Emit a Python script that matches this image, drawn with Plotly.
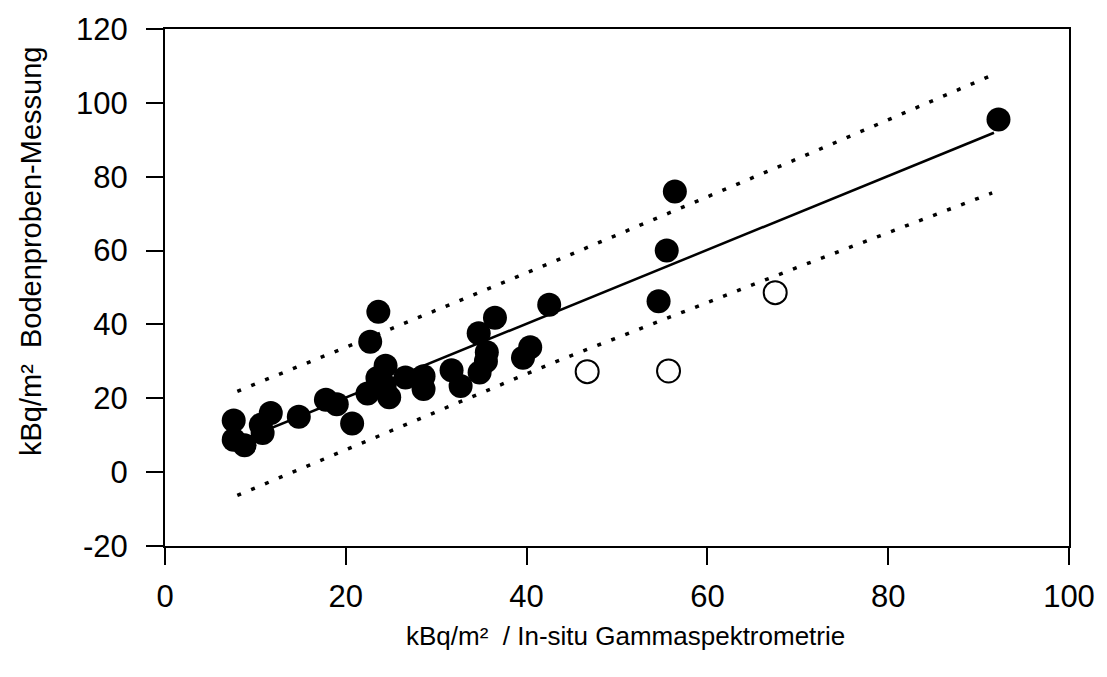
import plotly.graph_objects as go

# filled points (x: in-situ gamma spectrometry, y: soil sample measurement), kBq/m²
filled_x = [7.6, 7.6, 8.8, 10.6, 10.8, 11.7, 14.8, 17.8, 19.0, 20.7, 22.4, 22.7, 23.6,
            23.5, 24.4, 24.8, 24.3, 26.6, 28.6, 28.6, 31.7, 32.7, 34.7, 34.8, 35.5,
            35.6, 36.5, 39.6, 40.4, 42.5, 54.6, 55.5, 56.4, 92.2]
filled_y = [14.0, 8.8, 7.3, 12.8, 10.6, 16.0, 15.0, 19.6, 18.4, 13.2, 21.3, 35.3, 43.4,
            25.5, 28.8, 20.3, 23.5, 25.6, 26.0, 22.5, 27.6, 23.3, 37.6, 27.0, 30.0,
            32.5, 41.8, 31.0, 33.8, 45.3, 46.3, 60.0, 76.0, 95.5]

# open points (excluded from fit)
open_x = [46.7, 55.7, 67.5]
open_y = [27.2, 27.4, 48.6]

# regression line endpoints
fit_x = [7.7, 91.7]
fit_y = [7.9, 91.9]

# prediction band
band_x = [8, 25, 43, 70, 91.5]
band_upper = [21.9, 38.8, 57.0, 84.9, 107.5]
band_lower = [-6.3, 11.3, 29.7, 55.5, 75.6]

x_ticks = [0, 20, 40, 60, 80, 100]
x_labels = ["0", "20", "40", "60", "80", "100"]
y_ticks = [-20, 0, 20, 40, 60, 80, 100, 120]
y_labels = ["-20", "0", "20", "40", "60", "80", "100", "120"]

FONT = "Liberation Sans, Arial, sans-serif"

fig = go.Figure()
for yb in (band_upper, band_lower):
    fig.add_trace(go.Scatter(x=band_x, y=yb, mode="lines",
                             line=dict(color="black", width=3.5, dash="4px,11px"),
                             hoverinfo="skip", showlegend=False))
fig.add_trace(go.Scatter(x=fit_x, y=fit_y, mode="lines",
                         line=dict(color="black", width=2.5),
                         showlegend=False))
fig.add_trace(go.Scatter(x=filled_x, y=filled_y, mode="markers",
                         marker=dict(symbol="circle", size=24, color="black",
                                     line=dict(width=0)),
                         showlegend=False))
fig.add_trace(go.Scatter(x=open_x, y=open_y, mode="markers",
                         marker=dict(symbol="circle", size=23, color="white",
                                     line=dict(width=2, color="black")),
                         showlegend=False))

fig.update_layout(
    width=1107, height=677,
    margin=dict(l=165, r=32, t=27, b=131),
    paper_bgcolor="white", plot_bgcolor="white",
    font=dict(family=FONT, color="black"),
    showlegend=False,
    xaxis=dict(range=[0, 100], tickvals=x_ticks, ticktext=x_labels,
               ticks="outside", ticklen=17,
               tickwidth=2, tickcolor="black", showline=True, linewidth=2,
               linecolor="black", mirror=True, showgrid=False, zeroline=False,
               tickfont=dict(size=31, family=FONT, color="black"),
               ticklabelstandoff=5),
    yaxis=dict(range=[-20, 120], tickvals=y_ticks, ticktext=y_labels,
               ticks="outside", ticklen=17,
               tickwidth=2, tickcolor="black", showline=True, linewidth=2,
               linecolor="black", mirror=True, showgrid=False, zeroline=False,
               tickfont=dict(size=31, family=FONT, color="black"),
               ticklabelstandoff=12),
    annotations=[
        dict(text="kBq/m²  / In-situ Gammaspektrometrie", xref="paper", yref="paper",
             x=(629 - 165) / 910, y=(546 - 636) / 519,
             xanchor="center", yanchor="middle", showarrow=False,
             font=dict(size=26, family=FONT, color="black")),
        dict(text="kBq/m²  Bodenproben-Messung", xref="paper", yref="paper",
             x=(30 - 165) / 910, y=(546 - 250) / 519,
             xanchor="center", yanchor="middle", showarrow=False, textangle=-90,
             font=dict(size=29, family=FONT, color="black")),
    ],
)

fig.write_html("out.html")
